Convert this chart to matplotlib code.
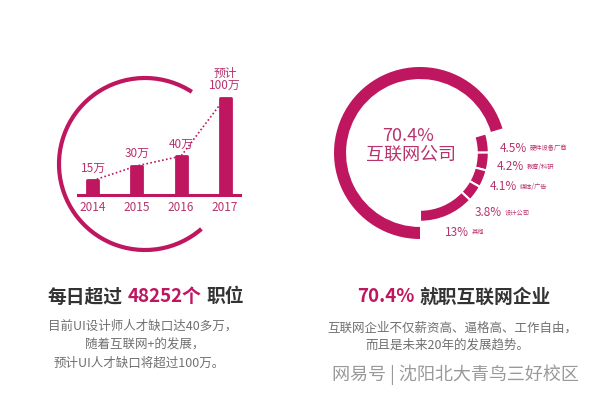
import matplotlib
matplotlib.use("Agg")
import matplotlib.pyplot as plt
from matplotlib.patches import Arc

plt.rcParams['font.family'] = ['Noto Sans CJK SC', 'DejaVu Sans']

# UI designer shortage (万)
years = ['2014', '2015', '2016', '2017']
demand = [15, 30, 40, 100]
demand_labels = ['15万', '30万', '40万', '预计\n100万']

# where designers work (%)
shares = [70.4, 4.5, 4.2, 4.1, 3.8, 13]
sectors = ['互联网公司', '硬件设备厂商', '教育/科研', '媒体/广告', '设计公司', '其他']

MAG = '#bf1660'
MAG_TXT = '#b8336e'
DARK = '#333333'
GREY = '#707070'
W, H = 600, 396

fig = plt.figure(figsize=(6, 3.96), dpi=100)
fig.patch.set_facecolor('white')

# full-figure layer in pixel units for decoration and text
bg = fig.add_axes([0, 0, 1, 1])
bg.set_xlim(0, W)
bg.set_ylim(0, H)
bg.axis('off')
bg.add_patch(Arc((145, H - 164), 172, 172, theta1=57, theta2=311, color=MAG, lw=3))

renderer = fig.canvas.get_renderer()


def run_text(cx, py, pieces, gap=5):
    """centre a row of differently styled text pieces at (cx, py) in pixels"""
    objs = []
    for s, color, size, weight in pieces:
        t = bg.text(0, H - py, s, color=color, fontsize=size, fontweight=weight,
                    ha='left', va='center')
        objs.append(t)
    widths = [t.get_window_extent(renderer).width for t in objs]
    total = sum(widths) + gap * (len(objs) - 1)
    x = cx - total / 2
    for t, w in zip(objs, widths):
        t.set_x(x)
        x += w + gap


# ---- left: bar chart
axb = fig.add_axes([78 / W, (H - 195) / H, 162 / W, 135 / H])
xs = list(range(len(years)))
axb.plot(xs, demand, ls=(0, (1, 1.4)), color=MAG, lw=1.2, zorder=1)
bars = axb.bar(xs, demand, width=0.25, color=MAG, edgecolor=MAG, lw=2,
               joinstyle='round', zorder=2)
for b, lab in zip(bars, demand_labels):
    axb.annotate(lab, (b.get_x() + b.get_width() / 2, b.get_height()),
                 xytext=(0, 4), textcoords='offset points', ha='center', va='bottom',
                 fontsize=8.5, color=MAG_TXT, linespacing=0.95)
axb.set_xlim(-0.34, 3.34)
axb.set_ylim(0, 139)
axb.set_xticks(xs, years)
axb.tick_params(axis='x', length=0, pad=4, labelsize=8.5, labelcolor=MAG_TXT)
axb.set_yticks([])
for side in ['top', 'left', 'right']:
    axb.spines[side].set_visible(False)
axb.spines['bottom'].set_color(MAG)
axb.spines['bottom'].set_linewidth(2.2)
axb.patch.set_alpha(0)

# ---- right: donut
axp = fig.add_axes([320 / W, (H - 153 - 100) / H, 200 / W, 200 / H])
axp.pie(shares, radius=1.0, startangle=270, counterclock=False,
        colors=[MAG] + ['none'] * (len(shares) - 1),
        wedgeprops=dict(width=0.14, linewidth=0))
axp.pie(shares, radius=0.8, startangle=270, counterclock=False,
        colors=['none'] + [MAG] * (len(shares) - 1),
        wedgeprops=dict(width=0.14, edgecolor='white', linewidth=1.5))
axp.set_xlim(-100 / 86, 100 / 86)
axp.set_ylim(-100 / 86, 100 / 86)
axp.axis('off')

bg.text(408, H - 136, f'{shares[0]}%', ha='center', va='center', fontsize=13, color=MAG_TXT)
bg.text(411, H - 155, sectors[0], ha='center', va='center', fontsize=13, color=MAG_TXT)

label_px = [(500, 148), (497, 167), (490, 187), (475, 212), (445, 232)]
for (px, py), v, name in zip(label_px, shares[1:], sectors[1:]):
    t = bg.text(px, H - py, f'{v:g}%', ha='left', va='center', fontsize=8.5, color=MAG_TXT)
    w = t.get_window_extent(renderer).width
    bg.text(px + w + 3, H - py, name, ha='left', va='center', fontsize=4.5, color=MAG_TXT)

# ---- captions
run_text(146, 297, [('每日超过', DARK, 13.5, 'bold'), ('48252个', MAG, 13.5, 'bold'),
                    ('职位', DARK, 13.5, 'bold')])
bg.text(143, H - 326, '目前UI设计师人才缺口达40多万，', ha='center', va='center', fontsize=9, color=GREY)
bg.text(145, H - 345, '随着互联网+的发展，', ha='center', va='center', fontsize=9, color=GREY)
bg.text(139, H - 363, '预计UI人才缺口将超过100万。', ha='center', va='center', fontsize=9, color=GREY)

run_text(454, 297, [(f'{shares[0]}%', MAG, 13.5, 'bold'), ('就职互联网企业', DARK, 13.5, 'bold')])
bg.text(452, H - 328, '互联网企业不仅薪资高、逼格高、工作自由，', ha='center', va='center', fontsize=9, color=GREY)
bg.text(447, H - 345, '而且是未来20年的发展趋势。', ha='center', va='center', fontsize=9, color=GREY)

bg.text(455, H - 375, '网易号 | 沈阳北大青鸟三好校区', ha='center', va='center', fontsize=13,
        color='#999999')

fig.savefig('out.png', dpi=100, facecolor='white')
